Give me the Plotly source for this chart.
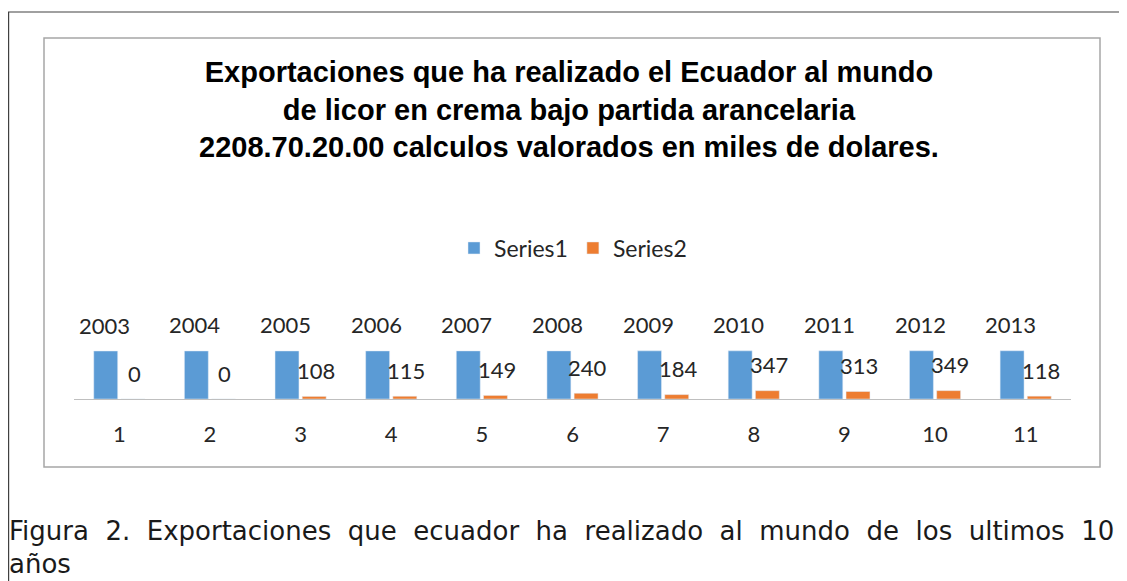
import plotly.graph_objects as go

categories = [1, 2, 3, 4, 5, 6, 7, 8, 9, 10, 11]
series1 = [2003, 2004, 2005, 2006, 2007, 2008, 2009, 2010, 2011, 2012, 2013]
series2 = [0, 0, 108, 115, 149, 240, 184, 347, 313, 349, 118]
tick_labels = [str(c) for c in categories]

BLUE = "#5b9bd5"
ORANGE = "#ed7d31"
OFF = 8  # page body margin of the html page
FW, FH = 1127 - OFF, 581 - OFF
FONT = "Lato"
TXT = "#262626"


def X(px):
    return (px - OFF) / FW


def Y(py):
    return 1 - (py - OFF) / FH


fig = go.Figure()
fig.add_trace(go.Bar(x=categories, y=series1, name="Series1", marker_color=BLUE))
fig.add_trace(go.Bar(x=categories, y=series2, name="Series2", marker_color=ORANGE))

annotations = []
for c, v in zip(categories, series1):
    annotations.append(dict(x=c, y=v, xref="x", yref="y", text=str(v), showarrow=False,
                            xshift=-15, yshift=26, font=dict(family=FONT, size=22, color=TXT)))
for c, v in zip(categories, series2):
    annotations.append(dict(x=c, y=v, xref="x", yref="y", text=str(v), showarrow=False,
                            xshift=15, yshift=26, font=dict(family=FONT, size=22, color=TXT)))

title = ("Exportaciones que ha realizado el Ecuador al mundo<br>"
         "de licor en crema bajo partida arancelaria<br>"
         "2208.70.20.00 calculos valorados en miles de dolares.")
annotations.append(dict(x=X(569), y=Y(110), xref="paper", yref="paper", text="<b>" + title + "</b>",
                        showarrow=False, xanchor="center", yanchor="middle",
                        font=dict(family="Liberation Sans", size=29, color="#000000")))

caption1 = "Figura 2. Exportaciones que ecuador ha realizado al mundo de los ultimos 10"
caption2 = "años"
cap_font = dict(family="DejaVu Sans", size=26, color="#1a1a1a")
annotations.append(dict(x=X(7), y=Y(531), xref="paper", yref="paper",
                        text=caption1.replace(" ", "\u00a0 "),
                        showarrow=False, xanchor="left", yanchor="middle", align="left", font=cap_font))
annotations.append(dict(x=X(7), y=Y(564), xref="paper", yref="paper", text=caption2,
                        showarrow=False, xanchor="left", yanchor="middle", align="left", font=cap_font))

shapes = [
    dict(type="line", xref="paper", yref="paper", x0=0, x1=1, y0=Y(12), y1=Y(12),
         line=dict(color="#808080", width=1.5)),
    dict(type="line", xref="paper", yref="paper", x0=0.6 / FW, x1=0.6 / FW, y0=0, y1=Y(12),
         line=dict(color="#404040", width=1.2)),
    dict(type="rect", xref="paper", yref="paper", x0=X(44), x1=X(1100), y0=Y(467), y1=Y(38),
         line=dict(color="#a6a6a6", width=1.5)),
]

fig.update_layout(
    width=FW, height=FH,
    margin=dict(l=0, r=0, t=0, b=0, pad=0),
    paper_bgcolor="white", plot_bgcolor="white",
    barmode="group", bargap=0.4, bargroupgap=0.12,
    showlegend=True,
    legend=dict(orientation="h", x=X(573), xanchor="center", y=Y(248), yanchor="middle",
                font=dict(family=FONT, size=23, color=TXT), itemwidth=30, traceorder="normal"),
    annotations=annotations,
    shapes=shapes,
    xaxis=dict(domain=[X(74), X(1071)], range=[0.5, 11.5], tickmode="array", tickvals=categories,
               ticktext=tick_labels, showline=True, linecolor="#bfbfbf", linewidth=1, showgrid=False,
               zeroline=False, ticks="", ticklabelstandoff=16,
               tickfont=dict(family=FONT, size=22, color=TXT)),
    yaxis=dict(domain=[Y(399), Y(300)], range=[0, 4131], visible=False, showgrid=False),
)

fig.write_html("out.html")
